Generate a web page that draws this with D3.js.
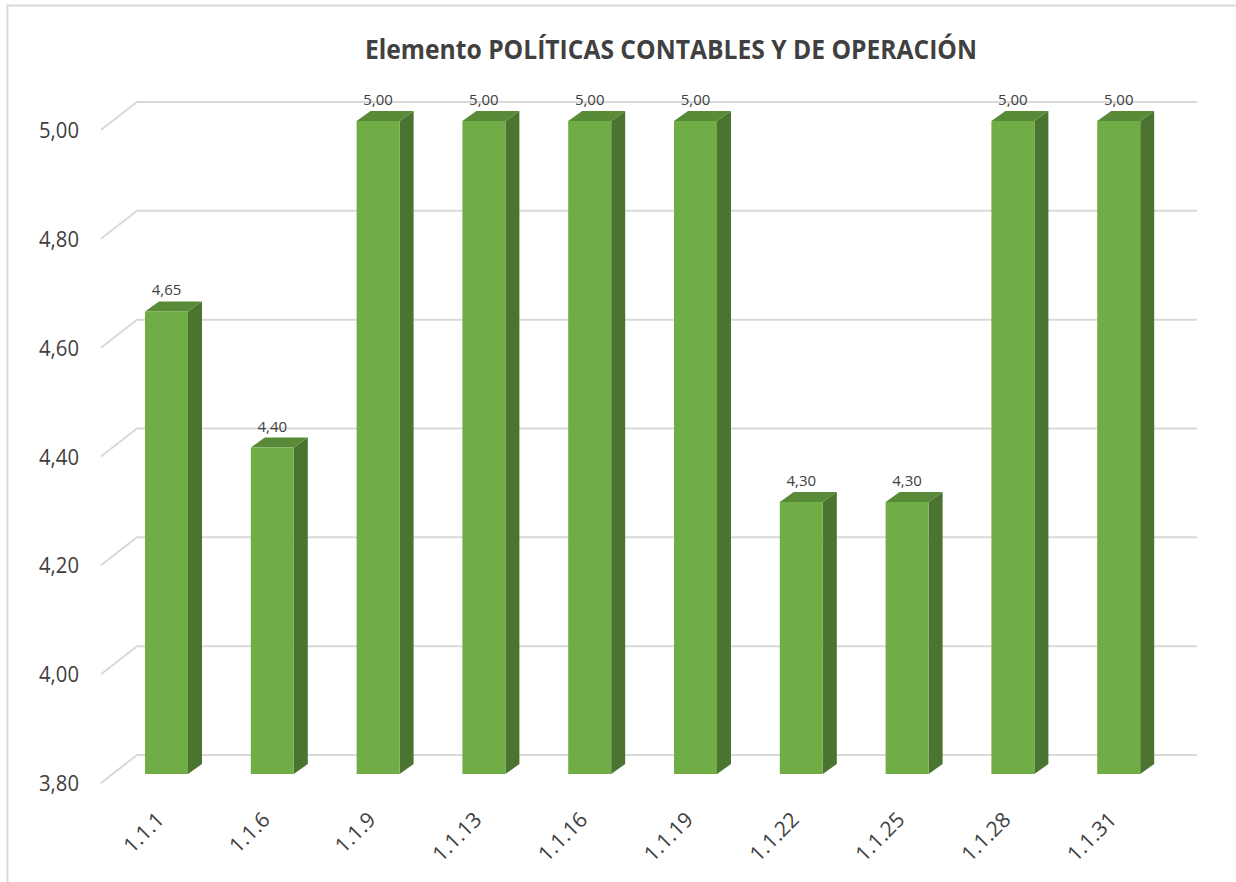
<!DOCTYPE html>
<html>
<head>
<meta charset="utf-8">
<script src="https://cdn.jsdelivr.net/npm/d3@7"></script>
<style>
  html, body { margin: 0; padding: 0; background: #fff; }
  svg { display: block; }
</style>
</head>
<body>
<svg id="chart" width="1236" height="882"></svg>
<script>
const title = "Elemento POLÍTICAS CONTABLES Y DE OPERACIÓN";
const categories = ["1.1.1", "1.1.6", "1.1.9", "1.1.13", "1.1.16", "1.1.19", "1.1.22", "1.1.25", "1.1.28", "1.1.31"];
const values = [4.65, 4.40, 5.00, 5.00, 5.00, 5.00, 4.30, 4.30, 5.00, 5.00];
const yTicks = [3.80, 4.00, 4.20, 4.40, 4.60, 4.80, 5.00];

const svg = d3.select("#chart");
const fmt = v => d3.format(".2f")(v).replace(".", ",");
const FONT = "'Open Sans', 'Noto Sans', sans-serif";

// border
svg.append("path")
  .attr("d", "M7.5,882 V5.5 H1236")
  .attr("fill", "none").attr("stroke", "#d9d9d9").attr("stroke-width", 2);

// scales (back wall)
const y = d3.scaleLinear().domain([3.8, 5.0]).range([755, 102]);
const x = d3.scalePoint().domain(categories).range([166.5, 1118.7]);
const wallLeft = 137, wallRight = 1197;
const depthX = -36, depthY = 28;
const barOff = 19;
const barW = 43, bdx = 14, bdy = -10;

// gridlines
const grid = svg.append("g");
yTicks.forEach(t => {
  grid.append("path")
    .attr("d", `M${wallLeft + depthX},${y(t) + depthY} L${wallLeft},${y(t)} H${wallRight}`)
    .attr("fill", "none").attr("stroke", "#d9d9d9").attr("stroke-width", 2);
});

// y labels
svg.append("g").selectAll("text").data(yTicks).join("text")
  .attr("x", 79).attr("y", d => y(d) + depthY)
  .attr("text-anchor", "end").attr("dominant-baseline", "central")
  .attr("font-family", FONT).attr("font-size", 21).attr("fill", "#404040")
  .attr("textLength", 40).attr("lengthAdjust", "spacingAndGlyphs")
  .text(fmt);

// bars
const bars = svg.append("g").selectAll("g").data(values).join("g");
bars.each(function(v, i) {
  const g = d3.select(this);
  const x0 = x(categories[i]) - barW / 2, x1 = x0 + barW;
  const yt = y(v) + barOff, yb = y(3.8) + barOff;
  g.append("path")
    .attr("d", `M${x1},${yt} L${x1 + bdx},${yt + bdy} L${x1 + bdx},${yb + bdy} L${x1},${yb} Z`)
    .attr("fill", "#4a7430");
  g.append("path")
    .attr("d", `M${x0},${yt} L${x0 + bdx},${yt + bdy} L${x1 + bdx},${yt + bdy} L${x1},${yt} Z`)
    .attr("fill", "#588a38");
  g.append("rect")
    .attr("x", x0).attr("y", yt).attr("width", barW).attr("height", yb - yt)
    .attr("fill", "#70ad47");
});

// value labels
svg.append("g").selectAll("text").data(values).join("text")
  .attr("x", (d, i) => x(categories[i]))
  .attr("y", d => y(d) + barOff + bdy - 6)
  .attr("text-anchor", "middle")
  .attr("font-family", FONT).attr("font-size", 15).attr("fill", "#404040")
  .text(fmt);

// x labels
svg.append("g").selectAll("text").data(categories).join("text")
  .attr("transform", d => `translate(${x(d) - 1},821) rotate(-45)`)
  .attr("text-anchor", "end")
  .attr("font-family", FONT).attr("font-size", 21).attr("fill", "#404040")
  .text(d => d);

// title
svg.append("text")
  .attr("x", 671).attr("y", 59)
  .attr("text-anchor", "middle")
  .attr("font-family", FONT).attr("font-weight", "bold").attr("font-size", 26)
  .attr("fill", "#404040")
  .attr("textLength", 612).attr("lengthAdjust", "spacingAndGlyphs")
  .text(title);
</script>
</body>
</html>
